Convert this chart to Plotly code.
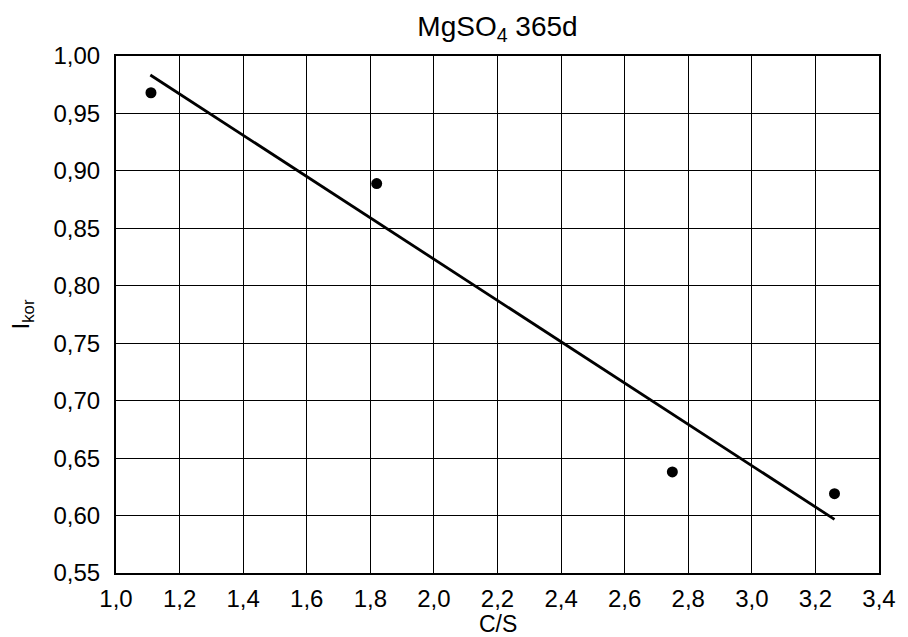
import plotly.graph_objects as go

# data
cs_points = [1.11, 1.82, 2.75, 3.26]
ikor_points = [0.968, 0.889, 0.638, 0.619]
trend_x = [1.108, 3.26]
trend_y = [0.9835, 0.5967]

title_text = "MgSO<sub>4</sub> 365d"
x_title = "C/S"
y_title = "I<sub>kor</sub>"

font_family = "Liberation Sans, Arial, sans-serif"

fig = go.Figure()
fig.add_trace(go.Scatter(
    x=trend_x, y=trend_y, mode="lines",
    line=dict(color="black", width=2.8),
    showlegend=False, hoverinfo="skip",
))
fig.add_trace(go.Scatter(
    x=cs_points, y=ikor_points, mode="markers",
    marker=dict(color="black", size=11),
    showlegend=False,
))

fig.update_layout(
    width=900, height=629,
    margin=dict(l=108, r=24, t=48, b=64),
    paper_bgcolor="white", plot_bgcolor="white",
    separators=", ",
    font=dict(family=font_family, size=24, color="black"),
    title=dict(text=title_text, x=0.5, xref="paper", xanchor="center",
               y=0.971, yanchor="middle",
               font=dict(family=font_family, size=28, color="black")),
    xaxis=dict(
        range=[1.0, 3.4], dtick=0.2, tick0=1.0, tickformat=".1f",
        showgrid=True, gridcolor="black", gridwidth=1,
        showline=True, linecolor="black", linewidth=2.2, mirror=True,
        ticks="", zeroline=False, ticklabelstandoff=3,
        tickfont=dict(size=24),
    ),
    yaxis=dict(
        range=[0.55, 1.0], dtick=0.05, tick0=0.55, tickformat=".2f",
        showgrid=True, gridcolor="black", gridwidth=1,
        showline=True, linecolor="black", linewidth=2.2, mirror=True,
        ticks="", zeroline=False, ticklabelstandoff=9,
        tickfont=dict(size=24),
    ),
    annotations=[
        dict(text=x_title, xref="paper", yref="paper", x=0.5, y=0,
             yshift=-51, xanchor="center", yanchor="middle",
             showarrow=False, font=dict(size=23)),
        dict(text=y_title, xref="paper", yref="paper", x=0, y=0.5,
             xshift=-94, xanchor="center", yanchor="middle", textangle=-90,
             showarrow=False, font=dict(size=24)),
    ],
)

fig.write_html("out.html")
